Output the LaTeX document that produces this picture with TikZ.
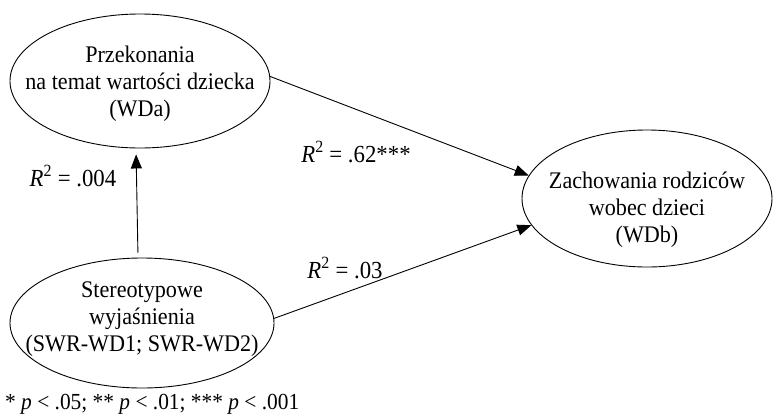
\documentclass[tikz,border=0pt]{standalone}
\usepackage{fontspec}
\setmainfont{Liberation Serif}[FakeStretch=0.93]
\usetikzlibrary{arrows.meta,shapes.geometric}
\begin{document}
\begin{tikzpicture}[x=1pt,y=-1pt,
  latent/.style={draw,ellipse,line width=0.9pt,inner sep=0pt},
  ltext/.style={align=center,inner sep=0pt,font=\fontsize{23.8}{27}\selectfont},
  path/.style={line width=0.9pt,-{Triangle[length=14pt,width=11pt]}},
  lab/.style={font=\fontsize{24.5}{28}\selectfont,inner sep=0pt}]
\useasboundingbox (0,0) rectangle (776,418);
\node[latent,minimum width=260pt,minimum height=134pt] (wda) at (140,81) {};
\node[ltext] (wdat) at ([yshift=-3pt]wda.center) {Przekonania\\na temat wartości dziecka\\(WDa)};
\node[latent,minimum width=264pt,minimum height=130pt] (swr) at (142,323) {};
\node[ltext] (swrt) at ([yshift=4pt]swr.center) {Stereotypowe\\wyjaśnienia\\(SWR-WD1; SWR-WD2)};
\node[latent,minimum width=250pt,minimum height=137pt] (wdb) at (647,198.5) {};
\node[ltext] (wdbt) at ([yshift=-11pt]wdb.center) {Zachowania rodziców\\wobec dzieci\\(WDb)};
\draw[path,shorten <=5pt,shorten >=6pt] ([xshift=-4pt]swr.north) -- ([xshift=-4pt]wda.south);
\draw[path] (wda.2) -- (wdb.169);
\draw[path] (swr.2) -- (wdb.193);
\node[lab] (l1) at (73,176) {\textit{R}\textsuperscript{2} = .004};
\node[lab] (l2) at (356,152) {\textit{R}\textsuperscript{2} = .62***};
\node[lab] (l3) at (345,268) {\textit{R}\textsuperscript{2} = .03};
\node[lab,anchor=west,font=\fontsize{23}{28}\selectfont] (fn) at (5,404) {* \textit{p} < .05; ** \textit{p} < .01; *** \textit{p} < .001};
\end{tikzpicture}
\end{document}
